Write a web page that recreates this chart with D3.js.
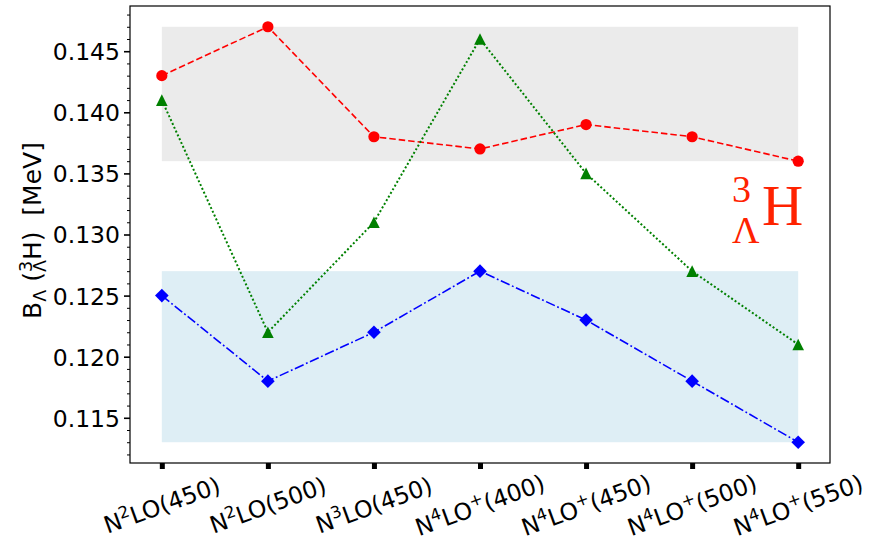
<!DOCTYPE html>
<html>
<head>
<meta charset="utf-8">
<script src="https://cdn.jsdelivr.net/npm/d3@7"></script>
<style>
  html, body { margin: 0; padding: 0; background: #fff; }
  svg text { white-space: pre; }
</style>
</head>
<body>
<svg id="chart" width="871" height="545"></svg>
<script>
// ---- data ----
const categories = [
  {base: "N", sup: "2", rest: "LO(450)"},
  {base: "N", sup: "2", rest: "LO(500)"},
  {base: "N", sup: "3", rest: "LO(450)"},
  {base: "N", sup: "4", rest: "LO", sup2: "+", rest2: "(400)"},
  {base: "N", sup: "4", rest: "LO", sup2: "+", rest2: "(450)"},
  {base: "N", sup: "4", rest: "LO", sup2: "+", rest2: "(500)"},
  {base: "N", sup: "4", rest: "LO", sup2: "+", rest2: "(550)"}
];
const redSeries   = [0.143, 0.147, 0.138, 0.137, 0.139, 0.138, 0.136];
const greenSeries = [0.141, 0.122, 0.131, 0.146, 0.135, 0.127, 0.121];
const blueSeries  = [0.125, 0.118, 0.122, 0.127, 0.123, 0.118, 0.113];
const grayBand = [0.136, 0.147];
const blueBand = [0.113, 0.127];
const yMajorTicks = [0.115, 0.120, 0.125, 0.130, 0.135, 0.140, 0.145];
const yMinorTicks = [0.112,0.113,0.114,0.116,0.117,0.118,0.119,0.121,0.122,0.123,0.124,0.126,0.127,0.128,0.129,0.131,0.132,0.133,0.134,0.136,0.137,0.138,0.139,0.141,0.142,0.143,0.144,0.146,0.147,0.148];
const annotationPos = {x: 5.66, y: 0.13078};

// ---- layout ----
const L = 130, R = 830, T = 6, B = 463;
const svg = d3.select("#chart");
const font = "'DejaVu Sans', sans-serif";
const fs = 23.5;

const n = categories.length;
const pad = (n - 1) * 0.05;
const x = d3.scaleLinear().domain([-pad, n - 1 + pad]).range([L, R]);
const yLo = 0.113, yHi = 0.147, yPad = (yHi - yLo) * 0.05;
const y = d3.scaleLinear().domain([yLo - yPad, yHi + yPad]).range([B, T]);

// bands
svg.append("rect")
  .attr("x", x(0)).attr("width", x(n - 1) - x(0))
  .attr("y", y(grayBand[1])).attr("height", y(grayBand[0]) - y(grayBand[1]))
  .attr("fill", "rgb(235,235,235)");
svg.append("rect")
  .attr("x", x(0)).attr("width", x(n - 1) - x(0))
  .attr("y", y(blueBand[1])).attr("height", y(blueBand[0]) - y(blueBand[1]))
  .attr("fill", "rgb(222,238,245)");

// lines
const line = d3.line().x((d, i) => x(i)).y(d => y(d));
function drawSeries(data, color, dash, width, marker) {
  svg.append("path").datum(data)
    .attr("d", line).attr("fill", "none")
    .attr("stroke", color).attr("stroke-width", width)
    .attr("stroke-dasharray", dash);
  const g = svg.append("g");
  data.forEach((d, i) => {
    const cx = x(i), cy = y(d);
    if (marker === "circle") {
      g.append("circle").attr("cx", cx).attr("cy", cy).attr("r", 5.6).attr("fill", color);
    } else if (marker === "triangle") {
      const s = 5.8;
      g.append("path").attr("d", `M${cx},${cy - s}L${cx - s},${cy + s}L${cx + s},${cy + s}Z`).attr("fill", color);
    } else if (marker === "diamond") {
      const s = 6.8;
      g.append("path").attr("d", `M${cx},${cy - s}L${cx + s},${cy}L${cx},${cy + s}L${cx - s},${cy}Z`).attr("fill", color);
    }
  });
}
drawSeries(redSeries, "#ff0000", "6.5,3", 1.6, "circle");
drawSeries(greenSeries, "#008000", "2,2.2", 2, "triangle");
drawSeries(blueSeries, "#0000ff", "9.6,2.6,1.8,2.6", 1.6, "diamond");

// frame
svg.append("rect").attr("x", L).attr("y", T).attr("width", R - L).attr("height", B - T)
  .attr("fill", "none").attr("stroke", "#000").attr("stroke-width", 1.2);

// y ticks
const yAxis = d3.axisLeft(y).tickValues(yMajorTicks).tickSize(6).tickPadding(4).tickFormat(d3.format(".3f"));
const ga = svg.append("g").attr("transform", `translate(${L},0)`).call(yAxis);
ga.select(".domain").remove();
ga.selectAll(".tick line").attr("stroke", "#000").attr("stroke-width", 1.6);
ga.selectAll(".tick text").attr("font-family", font).attr("font-size", fs).attr("fill", "#000").attr("dy", "0.36em");
const yMinor = d3.axisLeft(y).tickValues(yMinorTicks).tickSize(3).tickFormat("");
const gm = svg.append("g").attr("transform", `translate(${L},0)`).call(yMinor);
gm.select(".domain").remove();
gm.selectAll(".tick line").attr("stroke", "#000").attr("stroke-width", 1);

// x ticks
const xAxis = d3.axisBottom(x).tickValues(d3.range(n)).tickSize(6).tickFormat("");
const gx = svg.append("g").attr("transform", `translate(0,${B})`).call(xAxis);
gx.select(".domain").remove();
gx.selectAll(".tick line").attr("stroke", "#000").attr("stroke-width", 5);

// x labels
categories.forEach((c, i) => {
  const t = svg.append("text")
    .attr("transform", `translate(${x(i)},${505}) rotate(-20)`)
    .attr("text-anchor", "middle")
    .attr("font-family", font).attr("font-size", fs).attr("fill", "#000")
    .attr("dy", "0.36em");
  t.append("tspan").text(c.base);
  t.append("tspan").text(c.sup).attr("font-size", fs * 0.7).attr("dy", -9);
  t.append("tspan").text(c.rest).attr("dy", 9);
  if (c.sup2) {
    t.append("tspan").text(c.sup2).attr("font-size", fs * 0.7).attr("dy", -9);
    t.append("tspan").text(c.rest2).attr("dy", 9);
  }
});

// y label
const yfs = 25, ysub = yfs * 0.7;
const ylab = svg.append("text")
  .attr("transform", `translate(${40.5},${(T + B) / 2 - 4}) rotate(-90)`)
  .attr("text-anchor", "middle")
  .attr("font-family", font).attr("font-size", yfs).attr("fill", "#000");
ylab.append("tspan").text("B");
ylab.append("tspan").text("Λ").attr("font-size", ysub).attr("dy", 5);
ylab.append("tspan").text(" (").attr("dy", -5);
ylab.append("tspan").text("3").attr("font-size", ysub).attr("dy", -9);
ylab.append("tspan").text("Λ").attr("font-size", ysub).attr("dx", -ysub * 0.636).attr("dy", 14);
ylab.append("tspan").text("H)  [MeV]").attr("dy", -5);

// annotation
const ax = x(annotationPos.x), ay = y(annotationPos.y);
const ann = svg.append("g").attr("font-family", "'Liberation Serif', 'Times New Roman', serif").attr("fill", "#ff2200");
ann.append("text").attr("x", ax).attr("y", ay).attr("font-size", 57).text("H");
ann.append("text").attr("x", ax - 30).attr("y", ay - 23).attr("font-size", 38).text("3");
ann.append("text").attr("x", ax - 30).attr("y", ay + 18).attr("font-size", 38).text("Λ");
</script>
</body>
</html>
